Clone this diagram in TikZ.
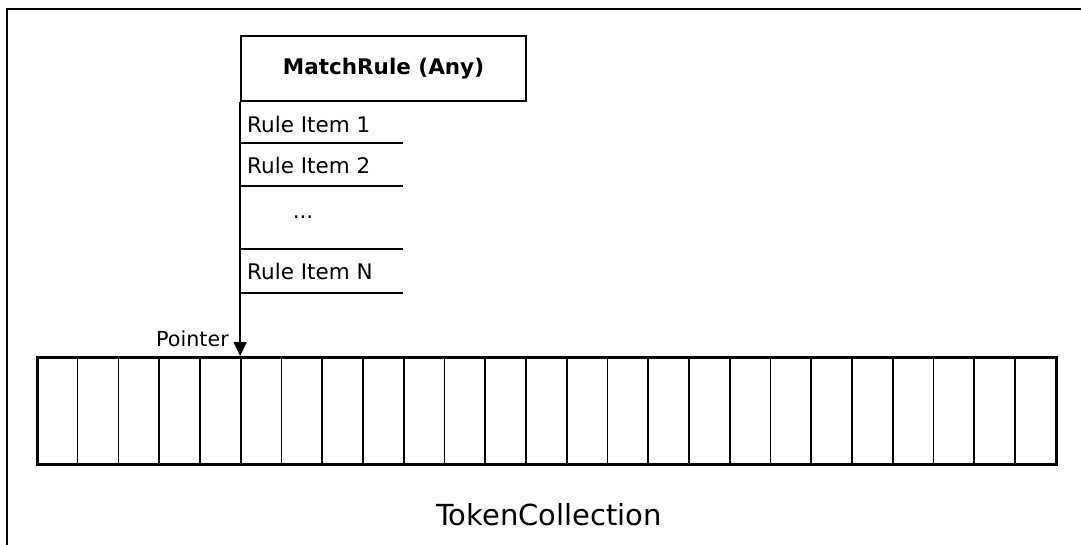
\documentclass[tikz,border=0pt]{standalone}
\usepackage{fontspec}
\setmainfont{DejaVu Sans}
\usetikzlibrary{arrows.meta}
\begin{document}
\begin{tikzpicture}[x=1pt,y=-1pt,
  thinline/.style={line width=1.7pt},
  celbox/.style={draw,line width=1.7pt,minimum width=40.76pt,minimum height=107pt,inner sep=0pt,anchor=north west},
  itemtext/.style={font=\fontsize{21.5}{25}\selectfont,anchor=base west,inner sep=0pt},
  ptr/.style={thinline,-{Triangle[width=13pt,length=14pt]}}]
\useasboundingbox (0,0) rectangle (1081,544);
\draw[line width=2.2pt] (7,9) rectangle (1100,570);
% MatchRule box
\node[draw,thinline,minimum width=285pt,minimum height=65pt,inner sep=0pt,
  font=\bfseries\fontsize{21.5}{25}\selectfont] (title) at (383.5,68.5) {MatchRule (Any)};
% items
\node[itemtext] (i1) at (247,132) {Rule Item 1};
\node[itemtext] (i2) at (247,173) {Rule Item 2};
\node[itemtext,anchor=base] (id) at (303,218) {...};
\node[itemtext] (iN) at (247,279) {Rule Item N};
\coordinate (l1) at (403,143);
\coordinate (l2) at (403,186);
\coordinate (l3) at (403,249);
\coordinate (l4) at (403,293);
\foreach \l in {l1,l2,l3,l4} \draw[thinline] (title.south west |- \l) -- (\l);
% token cells
\foreach \i in {0,...,24}
  \node[celbox] (c\i) at ({36+40.76*\i},356) {};
\node[draw,line width=3.2pt,inner sep=0pt,minimum width=1019pt,minimum height=107pt,anchor=north west] (coll) at (36,356) {};
% pointer
\coordinate (tip) at (title.south west |- coll.north);
\draw[ptr] (title.south west) -- (tip);
\node[itemtext,font=\fontsize{20.7}{24}\selectfont,anchor=base east] (pt) at (229,346) {Pointer};
\node[font=\fontsize{29}{33}\selectfont,anchor=base,inner sep=0pt] (tc) at (549,525) {TokenCollection};
\end{tikzpicture}
\end{document}
